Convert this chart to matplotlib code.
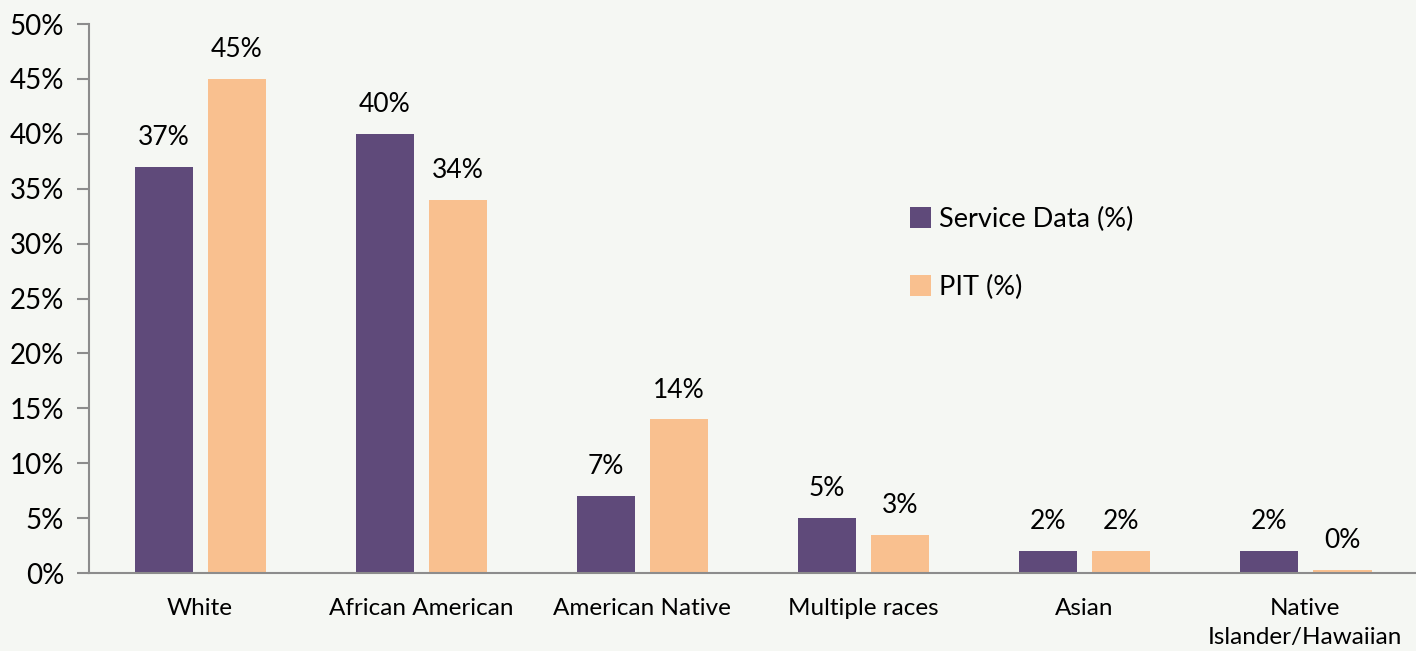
import numpy as np
import matplotlib.pyplot as plt
from matplotlib.ticker import PercentFormatter

plt.rcParams['font.family'] = ['Lato', 'DejaVu Sans']

categories = ['White', 'African American', 'American Native', 'Multiple races',
              'Asian', 'Native\nIslander/Hawaiian']
service = [37, 40, 7, 5, 2, 2]
pit = [45, 34, 14, 3.5, 2, 0.3]
service_labels = ['37%', '40%', '7%', '5%', '2%', '2%']
pit_labels = ['45%', '34%', '14%', '3%', '2%', '0%']

bg = '#f5f7f3'
purple = '#5f4a7a'
peach = '#f9c08f'

fig = plt.figure(figsize=(14.16, 6.51), dpi=100, facecolor=bg)
ax = fig.add_axes([0.0629, 0.1198, 0.937, 0.8432], facecolor=bg)

x = np.arange(len(categories))
w = 0.263
b1 = ax.bar(x - 0.163, service, w, color=purple, label='Service Data (%)')
b2 = ax.bar(x + 0.168, pit, w, color=peach, label='PIT (%)')

for bars, labs in ((b1, service_labels), (b2, pit_labels)):
    for r, lab in zip(bars, labs):
        ax.annotate(lab, (r.get_x() + r.get_width() / 2, r.get_height()),
                    xytext=(0, 12), textcoords='offset points',
                    ha='center', va='bottom', fontsize=19)

ax.set_xlim(-0.5, len(categories) - 0.5)
ax.set_ylim(0, 50)
ax.set_yticks(range(0, 51, 5))
ax.yaxis.set_major_formatter(PercentFormatter(decimals=0))
ax.set_xticks(x)
ax.set_xticklabels(categories, fontsize=17.5, linespacing=1.45)
ax.tick_params(axis='x', length=0, pad=18)
ax.tick_params(axis='y', length=9, width=1.5, color='#8c8c8c', labelsize=20, pad=9)

for s in ('top', 'right'):
    ax.spines[s].set_visible(False)
for s in ('left', 'bottom'):
    ax.spines[s].set_color('#8c8c8c')
    ax.spines[s].set_linewidth(1.5)

ax.legend(loc='upper left', bbox_to_anchor=(0.6, 0.712), frameon=False,
          fontsize=19.5, handlelength=0.8, handleheight=0.8, handletextpad=0.3,
          labelspacing=1.6)

fig.savefig('out.png', dpi=100, facecolor=bg)
